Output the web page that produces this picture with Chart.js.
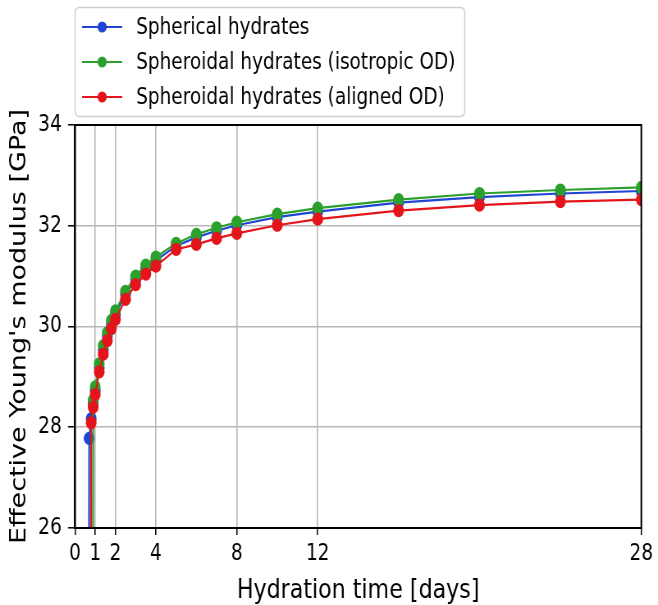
<!DOCTYPE html>
<html>
<head>
<meta charset="utf-8">
<script src="https://cdn.jsdelivr.net/npm/chart.js@4.4.0/dist/chart.umd.min.js"></script>
<style>
  html, body { margin: 0; padding: 0; background: #fff; overflow: hidden; }
  #wrap { width: 658px; height: 605px; overflow: hidden; }
  #chart { transform: scaleX(0.8204); transform-origin: 0 0; }
</style>
</head>
<body>
<div id="wrap"><canvas id="chart" width="802" height="605"></canvas></div>
<script>
// hydration time in days, modulus in GPa (0 = before percolation, off the plot)
const times = [0.6, 0.7, 0.8, 0.9, 1, 1.2, 1.4, 1.6, 1.8, 2, 2.5, 3, 3.5, 4, 5, 6, 7, 8, 10, 12, 16, 20, 24, 28];
const spherical = [0, 27.78, 28.17, 28.48, 28.73, 29.18, 29.54, 29.81, 30.05, 30.24, 30.64, 30.93, 31.15, 31.31, 31.60, 31.77, 31.90, 32.01, 32.17, 32.28, 32.46, 32.57, 32.64, 32.69];
const isotropic = [null, null, 0, 28.54, 28.80, 29.26, 29.62, 29.88, 30.12, 30.31, 30.70, 31.00, 31.22, 31.38, 31.65, 31.83, 31.96, 32.07, 32.23, 32.35, 32.52, 32.64, 32.71, 32.76];
const aligned = [null, 0, 28.09, 28.40, 28.65, 29.10, 29.45, 29.72, 29.96, 30.14, 30.54, 30.83, 31.04, 31.20, 31.53, 31.63, 31.75, 31.85, 32.01, 32.13, 32.30, 32.41, 32.48, 32.52];
const seriesNames = ['Spherical hydrates', 'Spheroidal hydrates (isotropic OD)', 'Spheroidal hydrates (aligned OD)'];
const xTicks = [0, 1, 2, 4, 8, 12, 28];
const yTicks = [26, 28, 30, 32, 34];

const FONT = "'DejaVu Sans', sans-serif";

function makeSet(label, values, color, order) {
    return {
        label: label,
        data: times.map((t, i) => ({x: t, y: values[i]})),
        borderColor: color,
        backgroundColor: color,
        pointBackgroundColor: color,
        pointBorderColor: color,
        borderWidth: 2.2,
        pointRadius: 6.6,
        pointBorderWidth: 0,
        tension: 0,
        clip: 0,
        order: order
    };
}

// matplotlib-like boxed legend, one entry per row
const legendBox = {
    id: 'legendBox',
    afterDraw(chart) {
        const ctx = chart.ctx;
        ctx.save();
        ctx.beginPath();
        ctx.roundRect(91.5, 7.5, 475, 109, 5);
        ctx.fillStyle = 'rgba(255,255,255,0.85)';
        ctx.fill();
        ctx.strokeStyle = '#cfcfcf';
        ctx.lineWidth = 1.5;
        ctx.stroke();
        chart.data.datasets.forEach((ds, i) => {
            const y = 27 + i * 35;
            ctx.strokeStyle = ds.borderColor;
            ctx.lineWidth = 2.2;
            ctx.beginPath();
            ctx.moveTo(100, y);
            ctx.lineTo(149, y);
            ctx.stroke();
            ctx.fillStyle = ds.borderColor;
            ctx.beginPath();
            ctx.arc(124.5, y, 5.6, 0, Math.PI * 2);
            ctx.fill();
            ctx.fillStyle = '#000';
            ctx.font = '22.5px ' + FONT;
            ctx.textBaseline = 'middle';
            ctx.textAlign = 'left';
            ctx.fillText(ds.label, 166, y + 1);
        });
        ctx.restore();
    }
};

// spines on all four sides, above the lines
const frame = {
    id: 'frame',
    afterDatasetsDraw(chart) {
        const a = chart.chartArea;
        const ctx = chart.ctx;
        ctx.save();
        ctx.strokeStyle = '#000';
        ctx.lineWidth = 2;
        ctx.strokeRect(a.left, a.top, a.right - a.left, a.bottom - a.top);
        ctx.restore();
    }
};

new Chart(document.getElementById('chart'), {
    type: 'line',
    data: {
        datasets: [
            makeSet(seriesNames[0], spherical, '#1f45d2', 2),
            makeSet(seriesNames[1], isotropic, '#2ca02c', 1),
            makeSet(seriesNames[2], aligned, '#e4141b', 0)
        ]
    },
    options: {
        responsive: false,
        animation: false,
        layout: {padding: {top: 125, right: 15, left: 0, bottom: 0}},
        plugins: {legend: {display: false}, tooltip: {enabled: false}},
        scales: {
            x: {
                type: 'linear',
                min: 0,
                max: 28,
                afterBuildTicks: (scale) => { scale.ticks = xTicks.map(v => ({value: v})); },
                afterFit: (scale) => { scale.height = 77; },
                ticks: {
                    autoSkip: false,
                    maxRotation: 0,
                    padding: 6,
                    color: '#000',
                    font: {family: FONT, size: 22.5},
                    callback: (v) => String(v)
                },
                grid: {color: '#b8b8b8', lineWidth: 1.6, tickColor: '#000', tickLength: 7, tickWidth: 1.5},
                border: {color: '#000', width: 2},
                title: {
                    display: true,
                    text: 'Hydration time [days]',
                    color: '#000',
                    font: {family: FONT, size: 27, lineHeight: 1},
                    padding: {top: 0, bottom: 1}
                }
            },
            y: {
                min: 26,
                max: 34,
                afterBuildTicks: (scale) => { scale.ticks = yTicks.map(v => ({value: v})); },
                afterFit: (scale) => { scale.width = 91.4; },
                ticks: {
                    padding: 7.7,
                    color: '#000',
                    font: {family: FONT, size: 22.5}
                },
                grid: {color: '#b8b8b8', lineWidth: 1.6, tickColor: '#000', tickLength: 8.5, tickWidth: 1.5},
                border: {color: '#000', width: 2},
                title: {
                    display: true,
                    text: "Effective Young's modulus [GPa]",
                    color: '#000',
                    font: {family: FONT, size: 27, lineHeight: 1},
                    padding: {top: 10, bottom: 0}
                }
            }
        }
    },
    plugins: [legendBox, frame]
});
</script>
</body>
</html>
